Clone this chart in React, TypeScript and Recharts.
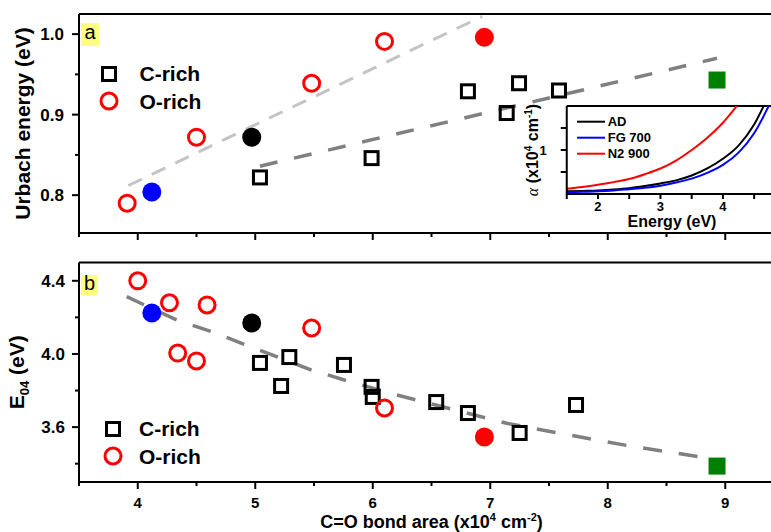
import { ScatterChart, Scatter, XAxis, YAxis, Legend, LineChart, Line, CartesianGrid, ReferenceLine } from 'recharts';

const FONT = '"Liberation Sans", Arial, Helvetica, sans-serif';

// shared x axis: C=O bond area (x10^4 cm^-2)
const areaMajorTicks = [4, 5, 6, 7, 8, 9];
const areaMinorTicks = [3.5, 4.5, 5.5, 6.5, 7.5, 8.5, 9.5];

// panel a: Urbach energy (eV)
const urbachMajorTicks = [0.8, 0.9, 1.0];
const urbachMinorTicks = [0.85, 0.95];
const urbachCRich = [
  { x: 5.04, y: 0.822 },
  { x: 5.99, y: 0.846 },
  { x: 6.81, y: 0.929 },
  { x: 7.14, y: 0.902 },
  { x: 7.245, y: 0.939 },
  { x: 7.585, y: 0.93 },
];
const urbachORich = [
  { x: 3.91, y: 0.79 },
  { x: 4.5, y: 0.872 },
  { x: 5.48, y: 0.939 },
  { x: 6.1, y: 0.991 },
];
const urbachAD = [{ x: 4.97, y: 0.872 }];
const urbachFG700 = [{ x: 4.12, y: 0.804 }];
const urbachN2900 = [{ x: 6.95, y: 0.996 }];
const urbachGreen = [{ x: 8.93, y: 0.943 }];
const urbachORichFit = [
  { x: 3.92, y: 0.812 },
  { x: 6.93, y: 1.022 },
];
const urbachCRichFit = [
  { x: 5.04, y: 0.836 },
  { x: 8.93, y: 0.97 },
];

// panel b: E04 (eV)
const e04MajorTicks = [3.6, 4.0, 4.4];
const e04MinorTicks = [3.4, 3.8, 4.2];
const e04CRich = [
  { x: 5.04, y: 3.951 },
  { x: 5.29, y: 3.983 },
  { x: 5.22, y: 3.825 },
  { x: 5.755, y: 3.94 },
  { x: 5.99, y: 3.82 },
  { x: 6.0, y: 3.765 },
  { x: 6.54, y: 3.737 },
  { x: 6.81, y: 3.677 },
  { x: 7.25, y: 3.568 },
  { x: 7.73, y: 3.721 },
];
const e04ORich = [
  { x: 4.0, y: 4.4 },
  { x: 4.27, y: 4.28 },
  { x: 4.59, y: 4.268 },
  { x: 4.34, y: 4.005 },
  { x: 4.5, y: 3.962 },
  { x: 5.48, y: 4.142 },
  { x: 6.1, y: 3.705 },
];
const e04AD = [{ x: 4.97, y: 4.169 }];
const e04FG700 = [{ x: 4.12, y: 4.224 }];
const e04N2900 = [{ x: 6.95, y: 3.546 }];
const e04Green = [{ x: 8.93, y: 3.387 }];
const e04Fit = [
  { x: 3.906, y: 4.313 },
  { x: 4.331, y: 4.186 },
  { x: 4.672, y: 4.113 },
  { x: 4.941, y: 4.044 },
  { x: 5.48, y: 3.912 },
  { x: 5.778, y: 3.854 },
  { x: 6.204, y: 3.776 },
  { x: 7.14, y: 3.621 },
  { x: 7.594, y: 3.566 },
  { x: 8.187, y: 3.497 },
  { x: 8.813, y: 3.435 },
];

// inset: absorption coefficient (x10^4 cm^-1) vs energy (eV)
const energyEv = [1.5, 1.75, 2.0, 2.25, 2.5, 2.75, 3.0, 3.25, 3.5, 3.75, 4.0, 4.25, 4.5, 4.75];
const alphaAD = [0.06, 0.07, 0.08, 0.1, 0.13, 0.18, 0.24, 0.31, 0.42, 0.58, 0.8, 1.1, 1.58, 2.3];
const alphaFG700 = [0.04, 0.05, 0.06, 0.08, 0.11, 0.14, 0.19, 0.26, 0.35, 0.48, 0.66, 0.94, 1.38, 2.05];
const alphaN2900 = [0.12, 0.16, 0.21, 0.27, 0.34, 0.45, 0.58, 0.76, 1.0, 1.28, 1.62, 2.05, null, null];
const energyMajorTicks = [2, 3, 4];
const energyMinorTicks = [1.5, 2.5, 3.5, 4.5];
const alphaTicks = [0.5, 1, 1.5];
const alphaLabelled = [1];

const near = (list: number[], v: number) => list.some((t) => Math.abs(t - v) < 1e-6);
const merge = (a: number[], b: number[]) => [...a, ...b].sort((p, q) => p - q);

const areaTicks = merge(areaMajorTicks, areaMinorTicks);
const urbachTicks = merge(urbachMajorTicks, urbachMinorTicks);
const e04Ticks = merge(e04MajorTicks, e04MinorTicks);
const energyTicks = merge(energyMajorTicks, energyMinorTicks);

const insetData = energyEv.map((e, i) => ({
  e,
  ad: alphaAD[i],
  fg: alphaFG700[i],
  n2: alphaN2900[i],
}));

function BottomTick(props: any) {
  const { x, y, payload, maj, showLab, fs, longLen, shortLen, labDy } = props;
  const v = payload.value;
  const isMajor = near(maj, v);
  return (
    <g>
      <line x1={x} x2={x} y1={y} y2={y + (isMajor ? longLen : shortLen)} stroke="#000" strokeWidth={2} />
      {showLab && isMajor && (
        <text x={x} y={y + labDy} textAnchor="middle" fontFamily={FONT} fontWeight="bold" fontSize={fs} fill="#000">
          {v}
        </text>
      )}
    </g>
  );
}

function LeftTick(props: any) {
  const { x, y, payload, maj, lab, fs, longLen, shortLen, gap, digits } = props;
  const v = payload.value;
  const isMajor = near(maj, v);
  return (
    <g>
      <line x1={x - (isMajor ? longLen : shortLen)} x2={x} y1={y} y2={y} stroke="#000" strokeWidth={2} />
      {near(lab, v) && (
        <text x={x - gap} y={y} dy="0.36em" textAnchor="end" fontFamily={FONT} fontWeight="bold" fontSize={fs} fill="#000">
          {v.toFixed(digits)}
        </text>
      )}
    </g>
  );
}

const openSquare = (p: any) => (
  <rect x={p.cx - 6.5} y={p.cy - 6.5} width={13} height={13} fill="none" stroke="#000" strokeWidth={3} />
);
const openCircle = (p: any) => <circle cx={p.cx} cy={p.cy} r={8} fill="none" stroke="#ff0000" strokeWidth={3} />;
const filledDot = (color: string) => (p: any) => <circle cx={p.cx} cy={p.cy} r={9.5} fill={color} />;
const filledSquare = (color: string) => (p: any) => (
  <rect x={p.cx - 8.5} y={p.cy - 8.5} width={17} height={17} fill={color} />
);
const noMark = () => <g />;

function MarkerLegend({ gap }: { gap: number }) {
  return (
    <svg width={160} height={56} style={{ display: 'block', overflow: 'visible' }}>
      <rect x={11.5} y={7.5} width={13} height={13} fill="none" stroke="#000" strokeWidth={3} />
      <text x={18 + gap} y={21} fontFamily={FONT} fontWeight="bold" fontSize={21} fill="#000">
        C-rich
      </text>
      <circle cx={18} cy={41} r={8} fill="none" stroke="#ff0000" strokeWidth={3} />
      <text x={18 + gap} y={48.5} fontFamily={FONT} fontWeight="bold" fontSize={21} fill="#000">
        O-rich
      </text>
    </svg>
  );
}

function InsetLegend({ payload }: any) {
  const items = payload || [];
  return (
    <svg width={110} height={50} style={{ display: 'block', overflow: 'visible' }}>
      {items.map((it: any, i: number) => (
        <g key={it.value}>
          <line x1={0} x2={28} y1={11.7 + 16 * i} y2={11.7 + 16 * i} stroke={it.color} strokeWidth={2} />
          <text x={30.7} y={16.3 + 16 * i} fontFamily={FONT} fontWeight="bold" fontSize={13} fill="#000">
            {it.value}
          </text>
        </g>
      ))}
    </svg>
  );
}

const axisLine = { stroke: '#000', strokeWidth: 2 };

function PanelTag({ text, top, height, lineHeight, width }: any) {
  return (
    <div
      style={{
        position: 'absolute',
        left: 81,
        top,
        width,
        height,
        background: '#ffff80',
        fontFamily: FONT,
        fontSize: 20,
        lineHeight: `${lineHeight}px`,
        textAlign: 'center',
        color: '#000',
      }}
    >
      {text}
    </div>
  );
}

export default function App() {
  return (
    <div
      style={{
        position: 'absolute',
        left: 0,
        top: 0,
        width: 771,
        height: 532,
        overflow: 'hidden',
        background: '#fff',
        fontFamily: FONT,
      }}
    >
      {/* panel a */}
      <div style={{ position: 'absolute', left: 0, top: 0 }}>
        <ScatterChart width={800} height={240} margin={{ top: 14, right: 16, bottom: 0, left: 0 }}>
          <XAxis
            type="number"
            dataKey="x"
            domain={[3.5, 9.5]}
            ticks={areaTicks}
            interval={0}
            height={7}
            tickSize={0}
            tickMargin={0}
            tickLine={false}
            axisLine={axisLine}
            allowDataOverflow
            tick={<BottomTick maj={areaMajorTicks} showLab={false} longLen={7} shortLen={4} />}
          />
          <YAxis
            type="number"
            dataKey="y"
            domain={[0.753, 1.025]}
            ticks={urbachTicks}
            interval={0}
            width={79}
            tickSize={0}
            tickMargin={0}
            tickLine={false}
            axisLine={axisLine}
            allowDataOverflow
            tick={<LeftTick maj={urbachMajorTicks} lab={urbachMajorTicks} fs={17} longLen={7} shortLen={4} gap={15} digits={1} />}
            label={() => (
              <text
                transform="rotate(-90 30 123.5)"
                x={30}
                y={123.5}
                textAnchor="middle"
                fontFamily={FONT}
                fontWeight="bold"
                fontSize={21}
                fill="#000"
              >
                Urbach energy (eV)
              </text>
            )}
          />
          <ReferenceLine y={1.025} stroke="#000" strokeWidth={2} />
          <Legend
            layout="vertical"
            align="center"
            verticalAlign="middle"
            wrapperStyle={{ left: 90.5, top: 59.5, width: 160, height: 56 }}
            content={() => <MarkerLegend gap={30.5} />}
          />
          <Scatter
            data={urbachORichFit}
            line={{ stroke: '#c4c4c4', strokeWidth: 3, strokeDasharray: '15 11' }}
            shape={noMark}
            isAnimationActive={false}
          />
          <Scatter
            data={urbachCRichFit}
            line={{ stroke: '#808080', strokeWidth: 3.5, strokeDasharray: '18 17' }}
            shape={noMark}
            isAnimationActive={false}
          />
          <Scatter data={urbachCRich} shape={openSquare} isAnimationActive={false} />
          <Scatter data={urbachORich} shape={openCircle} isAnimationActive={false} />
          <Scatter data={urbachFG700} shape={filledDot('#0000ff')} isAnimationActive={false} />
          <Scatter data={urbachAD} shape={filledDot('#000000')} isAnimationActive={false} />
          <Scatter data={urbachN2900} shape={filledDot('#ff0000')} isAnimationActive={false} />
          <Scatter data={urbachGreen} shape={filledSquare('#007f00')} isAnimationActive={false} />
        </ScatterChart>
      </div>

      {/* panel b */}
      <div style={{ position: 'absolute', left: 0, top: 240 }}>
        <ScatterChart width={800} height={292} margin={{ top: 22.5, right: 16, bottom: 0, left: 0 }}>
          <XAxis
            type="number"
            dataKey="x"
            domain={[3.5, 9.5]}
            ticks={areaTicks}
            interval={0}
            height={50}
            tickSize={0}
            tickMargin={0}
            tickLine={false}
            axisLine={axisLine}
            allowDataOverflow
            tick={<BottomTick maj={areaMajorTicks} showLab fs={15} longLen={7} shortLen={4} labDy={26} />}
            label={() => (
              <text x={431.5} y={288} textAnchor="middle" fontFamily={FONT} fontWeight="bold" fontSize={18} fill="#000">
                C=O bond area (x10
                <tspan fontSize={11} dy={-7}>
                  4
                </tspan>
                <tspan dy={7}> cm</tspan>
                <tspan fontSize={11} dy={-7}>
                  -2
                </tspan>
                <tspan dy={7}>)</tspan>
              </text>
            )}
          />
          <YAxis
            type="number"
            dataKey="y"
            domain={[3.3, 4.5]}
            ticks={e04Ticks}
            interval={0}
            width={79}
            tickSize={0}
            tickMargin={0}
            tickLine={false}
            axisLine={axisLine}
            allowDataOverflow
            tick={<LeftTick maj={e04MajorTicks} lab={e04MajorTicks} fs={17} longLen={7} shortLen={4} gap={14} digits={1} />}
            label={() => (
              <text
                transform="rotate(-90 24 132.25)"
                x={24}
                y={132.25}
                textAnchor="middle"
                fontFamily={FONT}
                fontWeight="bold"
                fontSize={21}
                fill="#000"
              >
                E
                <tspan fontSize={13} dy={5}>
                  04
                </tspan>
                <tspan dy={-5}> (eV)</tspan>
              </text>
            )}
          />
          <ReferenceLine y={4.5} stroke="#000" strokeWidth={2} />
          <Legend
            layout="vertical"
            align="center"
            verticalAlign="middle"
            wrapperStyle={{ left: 95, top: 174.7, width: 160, height: 56 }}
            content={() => <MarkerLegend gap={26} />}
          />
          <Scatter
            data={e04Fit}
            line={{ stroke: '#808080', strokeWidth: 3.5, strokeDasharray: '19 17' }}
            shape={noMark}
            isAnimationActive={false}
          />
          <Scatter data={e04CRich} shape={openSquare} isAnimationActive={false} />
          <Scatter data={e04ORich} shape={openCircle} isAnimationActive={false} />
          <Scatter data={e04FG700} shape={filledDot('#0000ff')} isAnimationActive={false} />
          <Scatter data={e04AD} shape={filledDot('#000000')} isAnimationActive={false} />
          <Scatter data={e04N2900} shape={filledDot('#ff0000')} isAnimationActive={false} />
          <Scatter data={e04Green} shape={filledSquare('#007f00')} isAnimationActive={false} />
        </ScatterChart>
      </div>

      {/* inset */}
      <div style={{ position: 'absolute', left: 500, top: 90 }}>
        <LineChart width={280} height={150} data={insetData} margin={{ top: 16, right: 4, bottom: 0, left: 0 }}>
          <CartesianGrid fill="#fff" stroke="none" horizontal={false} vertical={false} />
          <XAxis
            type="number"
            dataKey="e"
            domain={[1.5, 4.85]}
            ticks={energyTicks}
            interval={0}
            height={46}
            tickSize={0}
            tickMargin={0}
            tickLine={false}
            axisLine={axisLine}
            allowDataOverflow
            tick={<BottomTick maj={energyMajorTicks} showLab fs={13} longLen={5} shortLen={5} labDy={16.7} />}
            label={() => (
              <text x={172} y={137} textAnchor="middle" fontFamily={FONT} fontWeight="bold" fontSize={16} fill="#000">
                Energy (eV)
              </text>
            )}
          />
          <YAxis
            type="number"
            domain={[0, 2]}
            ticks={alphaTicks}
            interval={0}
            width={66.75}
            tickSize={0}
            tickMargin={0}
            tickLine={false}
            axisLine={axisLine}
            allowDataOverflow
            tick={<LeftTick maj={alphaTicks} lab={alphaLabelled} fs={13} longLen={6} shortLen={6} gap={20} digits={0} />}
            label={() => (
              <text
                transform="rotate(-90 38 60)"
                x={38}
                y={60}
                textAnchor="middle"
                fontFamily={FONT}
                fontWeight="bold"
                fontSize={16}
                fill="#000"
              >
                <tspan fontStyle="italic" fontWeight="normal" fontFamily='"Liberation Serif", serif'>
                  α
                </tspan>
                <tspan> (x10</tspan>
                <tspan fontSize={10} dy={-6}>
                  4
                </tspan>
                <tspan dy={6}> cm</tspan>
                <tspan fontSize={10} dy={-6}>
                  -1
                </tspan>
                <tspan dy={6}>)</tspan>
              </text>
            )}
          />
          <ReferenceLine y={2} stroke="#000" strokeWidth={2} />
          <Legend
            layout="vertical"
            align="center"
            verticalAlign="middle"
            wrapperStyle={{ left: 77, top: 20, width: 110, height: 50 }}
            content={(props: any) => <InsetLegend payload={props.payload} />}
          />
          <Line type="monotone" dataKey="ad" name="AD" stroke="#000000" strokeWidth={2} dot={false} isAnimationActive={false} />
          <Line type="monotone" dataKey="fg" name="FG 700" stroke="#0000ff" strokeWidth={2} dot={false} isAnimationActive={false} />
          <Line type="monotone" dataKey="n2" name="N2 900" stroke="#ff0000" strokeWidth={2} dot={false} isAnimationActive={false} />
        </LineChart>
      </div>

      <PanelTag text="a" top={23} height={23} lineHeight={19} width={18} />
      <PanelTag text="b" top={275} height={19.5} lineHeight={17} width={17} />
    </div>
  );
}
